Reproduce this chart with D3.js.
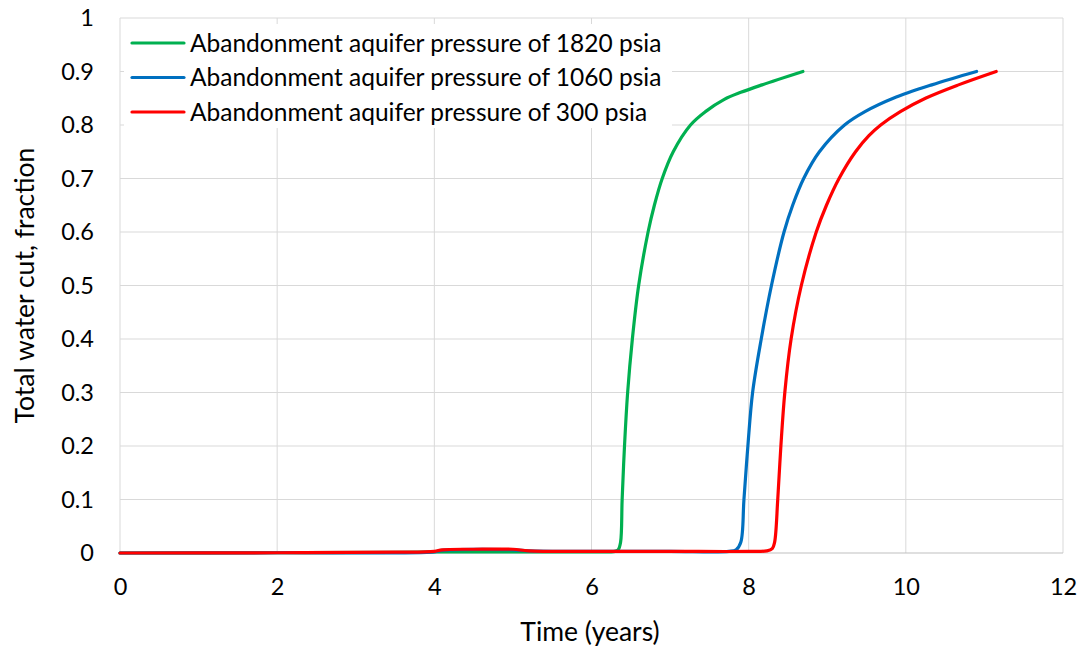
<!DOCTYPE html>
<html><head><meta charset="utf-8">
<script src="https://cdn.jsdelivr.net/npm/d3@7"></script>
<style>body{margin:0;background:#fff}svg{display:block}text{font-family:Lato,"Open Sans",sans-serif;fill:#000}</style>
</head><body>
<svg id="c" width="1086" height="646"></svg>
<script>
const seriesNames = ["Abandonment aquifer pressure of 1820 psia","Abandonment aquifer pressure of 1060 psia","Abandonment aquifer pressure of 300 psia"];
const seriesColors = ["#00b050","#0070c0","#ff0000"];
const greenT = [0,2,3.5,4,4.5,5,5.5,6,6.3,6.34,6.37,6.39,6.42,6.46,6.52,6.60,6.72,6.80,6.90,7.04,7.26,7.45,7.69,7.90,8.17,8.69];
const greenV = [0,0.0005,0.001,0.002,0.002,0.002,0.002,0.002,0.003,0.006,0.02,0.1,0.2,0.3,0.4,0.5,0.6,0.65,0.7,0.75,0.8,0.825,0.848,0.861,0.875,0.9];
const blueT = [0,2,4,4.1,5,5.2,6,7,7.75,7.84,7.90,7.94,7.99,8.05,8.16,8.29,8.45,8.56,8.70,8.90,9.22,9.48,9.84,10.33,10.90];
const blueV = [0,0.0005,0.002,0.005,0.006,0.004,0.003,0.003,0.003,0.006,0.02,0.1,0.2,0.3,0.4,0.5,0.6,0.65,0.7,0.75,0.8,0.825,0.85,0.875,0.9];
const redT = [0,2,3.5,4,4.1,4.5,5,5.2,6,7,8,8.23,8.30,8.33,8.37,8.41,8.46,8.54,8.67,8.86,8.99,9.15,9.36,9.53,9.68,9.93,10.25,10.67,11.15];
const redV = [0,0.0005,0.0015,0.003,0.006,0.007,0.007,0.004,0.003,0.003,0.003,0.004,0.008,0.02,0.1,0.2,0.3,0.4,0.5,0.6,0.65,0.7,0.75,0.78,0.8,0.825,0.85,0.875,0.9];
const xTicks = [0,2,4,6,8,10,12];
const yTicks = [0,0.1,0.2,0.3,0.4,0.5,0.6,0.7,0.8,0.9,1];
const xTitle = "Time (years)";
const yTitle = "Total water cut, fraction";

const svg = d3.select("#c");
const L=120,R=1063,T=18,B=553;
const x = d3.scaleLinear().domain([0,12]).range([L,R]);
const y = d3.scaleLinear().domain([0,1]).range([B,T]);
const grid="#d9d9d9";

svg.append("g").selectAll("line").data(yTicks.slice(1)).join("line")
  .attr("x1",L).attr("x2",R).attr("y1",d=>y(d)).attr("y2",d=>y(d)).attr("stroke",grid).attr("stroke-width",1);
svg.append("g").selectAll("line").data(xTicks).join("line")
  .attr("x1",d=>x(d)).attr("x2",d=>x(d)).attr("y1",T).attr("y2",B).attr("stroke",grid).attr("stroke-width",1);
svg.append("line").attr("x1",L).attr("x2",R).attr("y1",B).attr("y2",B).attr("stroke","#bfbfbf").attr("stroke-width",1);

const xa = svg.append("g").attr("transform",`translate(0,${B})`)
  .call(d3.axisBottom(x).tickValues(xTicks).tickSize(0).tickPadding(25).tickFormat(d3.format("d")));
xa.select(".domain").remove();
xa.selectAll("text").attr("font-size",23.5).style("font-family","Lato");
const ya = svg.append("g").attr("transform",`translate(${L},0)`)
  .call(d3.axisLeft(y).tickValues(yTicks).tickSize(0).tickPadding(26).tickFormat(d=>d===0?"0":d===1?"1":d3.format(".1f")(d)));
ya.select(".domain").remove();
ya.selectAll("text").attr("font-size",23.5).style("font-family","Lato");

svg.append("text").attr("x",590).attr("y",641).attr("text-anchor","middle").attr("font-size",26.5).text(xTitle);
svg.append("text").attr("transform",`translate(34,${(T+B)/2}) rotate(-90)`).attr("text-anchor","middle").attr("font-size",26.5).text(yTitle);

const series = [[greenT,greenV],[blueT,blueV],[redT,redV]];
const line = d3.line().x(d=>x(d[0])).y(d=>y(d[1])).curve(d3.curveCatmullRom.alpha(0.5));
series.forEach((s,i)=>{
  const pts = s[0].map((t,j)=>[t,s[1][j]]);
  svg.append("path").datum(pts).attr("d",line).attr("fill","none")
    .attr("stroke",seriesColors[i]).attr("stroke-width",3.2).attr("stroke-linecap","round").attr("stroke-linejoin","round");
});

svg.append("rect").attr("x",124).attr("y",24).attr("width",548).attr("height",104).attr("fill","#fff");
seriesNames.forEach((n,i)=>{
  const yy = 43 + i*34.5;
  svg.append("line").attr("x1",132).attr("x2",184).attr("y1",yy).attr("y2",yy)
    .attr("stroke",seriesColors[i]).attr("stroke-width",3.2).attr("stroke-linecap","round");
  svg.append("text").attr("x",190).attr("y",yy).attr("dy","0.36em").attr("font-size",24.5).text(n);
});
</script>
</body></html>
